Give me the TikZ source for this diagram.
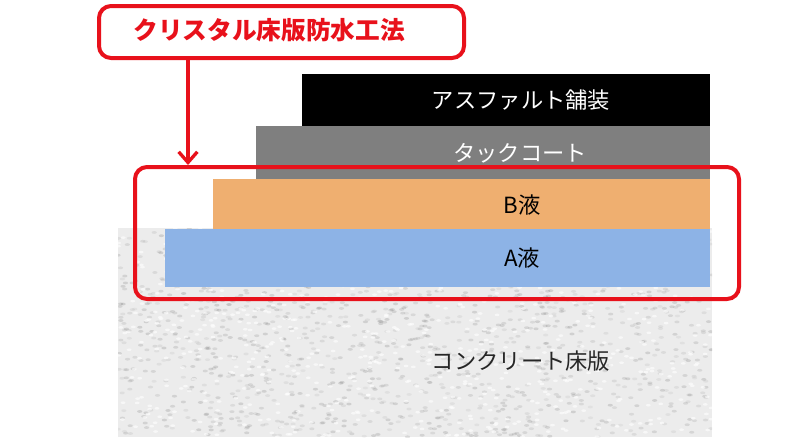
\documentclass[tikz,border=0pt]{standalone}
\usepackage{fontspec}
\setmainfont{Noto Sans CJK JP}
\usetikzlibrary{arrows.meta}
\definecolor{concrete}{HTML}{ECECEC}
\definecolor{liqA}{HTML}{8DB3E6}
\definecolor{liqB}{HTML}{EFAF70}
\definecolor{tack}{HTML}{7F7F7F}
\definecolor{redline}{HTML}{E8111B}
\tikzset{
  layer/.style={draw=none, inner sep=0pt, anchor=north west},
  redbox/.style={draw=redline, line width=3pt, rounded corners=9pt, inner sep=0pt, anchor=north west},
  lbl/.style={font=\fontsize{16.7}{18}\selectfont}
}
\begin{document}
\begin{tikzpicture}[x=0.75pt,y=-0.75pt]
\useasboundingbox[fill=white] (0,0) rectangle (800,437);
% concrete slab
\node[layer, fill=concrete, minimum width=594*0.75pt, minimum height=209*0.75pt] (slab) at (118,228) {};
\begin{scope}
\clip (118,228) rectangle (712,437);
\pgfmathsetseed{7}
\foreach \i in {1,...,1400}{
  \pgfmathsetmacro{\px}{118+594*rnd}
  \pgfmathsetmacro{\py}{228+209*rnd}
  \pgfmathsetmacro{\sh}{30+40*rnd}
  \fill[black!\sh!white, opacity=0.18] (\px,\py) ellipse (2.6 and 1.4);
}
\foreach \i in {1,...,700}{
  \pgfmathsetmacro{\px}{118+594*rnd}
  \pgfmathsetmacro{\py}{228+209*rnd}
  \fill[white, opacity=0.6] (\px,\py) ellipse (2.4 and 1.3);
}
\end{scope}
% layers
\node[layer, fill=liqA, minimum width=545*0.75pt, minimum height=58*0.75pt] (A) at (165,229) {};
\node[layer, fill=liqB, minimum width=497*0.75pt, minimum height=50*0.75pt] (B) at (213,179) {};
\node[layer, fill=tack, minimum width=454*0.75pt, minimum height=53*0.75pt] (T) at (256,126) {};
\node[layer, fill=black, minimum width=408*0.75pt, minimum height=52*0.75pt] (P) at (302,74) {};
% labels
\node[lbl, text=white] (Ptxt) at (521,100) {アスファルト舗装};
\node[lbl, text=white] (Ttxt) at (520,153) {タックコート};
\node[lbl, text=black] (Btxt) at (522,205) {B液};
\node[lbl, text=black] (Atxt) at (522,258) {A液};
\node[lbl, text=black!85] (Ctxt) at (521,361) {コンクリート床版};
% red boxes
\node[redbox, minimum width=365*0.75pt, minimum height=52*0.75pt] (title) at (97,4) {};
\node[font=\fontsize{18.5}{20}\selectfont\bfseries, text=redline, anchor=center] (ttxt) at (269,30) {クリスタル床版防水工法};
\node[redbox, minimum width=604*0.75pt, minimum height=132*0.75pt] (grp) at (133,165) {};
\coordinate (ax) at (188,0);
\draw[redline, line width=2.5pt, -{Straight Barb[length=8pt,width=14pt,line width=2.5pt]}] (title.south -| ax) -- (grp.north -| ax);
\end{tikzpicture}
\end{document}
